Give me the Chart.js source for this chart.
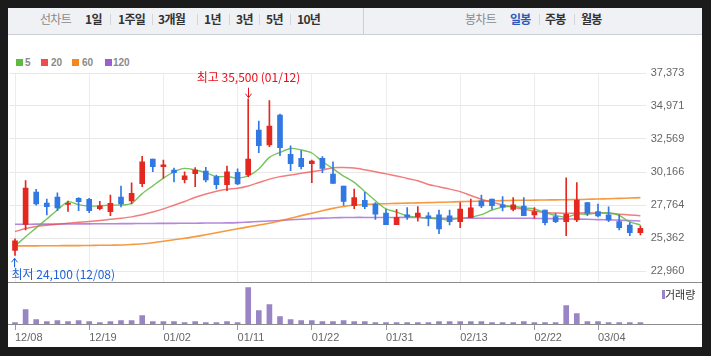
<!DOCTYPE html>
<html><head><meta charset="utf-8">
<script src="https://cdn.jsdelivr.net/npm/chart.js@4.4.0/dist/chart.umd.min.js"></script>
<style>
html,body{margin:0;padding:0;background:#1b1b1b;}
#wrap{position:relative;width:711px;height:356px;background:#1b1b1b;overflow:hidden;font-family:"Noto Sans CJK KR","Noto Sans",sans-serif;}
#panel{position:absolute;left:8px;top:8px;width:694px;height:339px;background:#fff;}
#tabs{position:absolute;left:8px;top:8px;width:694px;height:26px;background:#eff1f5;border-bottom:1px solid #cbced4;}
.t{position:absolute;top:11px;font-size:12px;line-height:16px;color:#333;font-weight:bold;letter-spacing:-0.7px;white-space:nowrap;}
.g{color:#8a8a8a;font-weight:normal;}
.b{color:#2f5bb7;}
.sep{position:absolute;top:14px;width:1px;height:11px;background:#d3d6dc;}
.lg{position:absolute;top:57px;font-size:10px;line-height:11px;font-weight:bold;color:#8a8a8a;font-family:"Liberation Sans",Arial,sans-serif;}
.sq{position:absolute;top:59px;width:7px;height:7px;}
canvas{position:absolute;left:0;top:0;}
#vlg{position:absolute;left:665px;top:288px;font-size:11px;line-height:13px;color:#333;}
#vsq{position:absolute;left:662px;top:290px;width:3px;height:9px;background:#9985c6;}
</style>
</head><body>
<div id="wrap">
  <div id="panel"></div>
  <div id="tabs"></div>
  <span class="t g" style="left:40px">선차트</span>
  <span class="t" style="left:85px">1일</span><span class="sep" style="left:110px"></span>
  <span class="t" style="left:118px">1주일</span><span class="sep" style="left:152px"></span>
  <span class="t" style="left:158px">3개월</span><span class="sep" style="left:197px"></span>
  <span class="t" style="left:204px">1년</span><span class="sep" style="left:229px"></span>
  <span class="t" style="left:236px">3년</span><span class="sep" style="left:259px"></span>
  <span class="t" style="left:266px">5년</span><span class="sep" style="left:290px"></span>
  <span class="t" style="left:297px">10년</span>
  <span class="sep" style="left:363px;top:8px;height:26px;background:#cbced4"></span>
  <span class="t g" style="left:465px">봉차트</span>
  <span class="t b" style="left:510px">일봉</span><span class="sep" style="left:539px"></span>
  <span class="t" style="left:545px">주봉</span><span class="sep" style="left:574px"></span>
  <span class="t" style="left:581px">월봉</span>

  <span class="sq" style="left:16px;background:#5dbb3f"></span><span class="lg" style="left:25px">5</span>
  <span class="sq" style="left:41px;background:#ef4b4b"></span><span class="lg" style="left:51px">20</span>
  <span class="sq" style="left:72px;background:#f5871f"></span><span class="lg" style="left:82px">60</span>
  <span class="sq" style="left:105px;background:#9d5fcf"></span><span class="lg" style="left:113px">120</span>

  <canvas id="price" width="711" height="356"></canvas>
  <canvas id="vol" width="711" height="356"></canvas>
  <span id="vsq"></span><span id="vlg">거래량</span>
</div>
<script>
const dates = ['12/08','12/11','12/12','12/13','12/14','12/15','12/18','12/19','12/20','12/21','12/22','12/26','12/27','12/28',
'01/02','01/03','01/04','01/05','01/08','01/09','01/10','01/11','01/12','01/15','01/16','01/17','01/18','01/19',
'01/22','01/23','01/24','01/25','01/26','01/29','01/30','01/31','02/01','02/02','02/05','02/06','02/07','02/08',
'02/13','02/14','02/15','02/16','02/19','02/20','02/21','02/22','02/23','02/26','02/27','02/28','02/29',
'03/04','03/05','03/06','03/07','03/08'];
const tickLabels = ['12/08','12/19','01/02','01/11','01/22','01/31','02/13','02/22','03/04'];
const priceTicks = [22960,25362,27764,30166,32569,34971,37373];

const opens  = [24450,26350,28700,27900,28350,27800,28250,28180,27500,27280,28350,28060,29320,31110,
30560,30310,29610,30050,30240,29830,29250,30140,29950,33220,32130,34310,31450,31160,
30770,31160,30020,29150,27720,28100,27840,27180,26330,27040,26920,26970,27040,26970,
26550,26840,28060,28200,27770,27450,27690,27040,27400,26920,26550,26670,27940,
27280,27040,26550,26310,25750];
const highs  = [25300,29550,28900,28200,28650,28050,28300,28250,28030,28490,29150,29370,31300,31110,
31040,30460,30170,30480,30510,29950,30600,30390,35500,33880,35360,34390,32080,31720,
31040,31280,30900,29150,28930,28690,27940,27450,27450,27570,27650,27210,27400,27400,
27940,28200,28490,28200,28370,28300,28300,27570,27400,27160,29750,29390,27940,
27840,27640,27040,26480,26240];
const lows   = [24100,25950,27750,27050,27350,27300,27350,27200,27400,26990,27620,27840,29100,30190,
29710,29440,29370,29100,29440,28930,28810,29250,29830,31570,32010,31360,30260,30390,
29390,30120,29340,27740,27500,27500,26720,26330,26330,26720,26580,26240,25680,26310,
26120,26840,27570,27470,27330,27330,26990,26800,26310,26480,25530,26550,26990,
26890,26550,25950,25530,25580];
const closes = [25150,29000,27850,27650,27550,27880,28000,27350,27700,27890,27840,28620,30900,30560,
30680,30120,29880,30310,29590,29250,30170,29300,31110,32080,33510,31940,30770,30560,
30970,30430,29340,28030,28300,27650,27090,26330,26870,26890,27180,26800,26020,26550,
27470,27550,27690,27720,27600,27770,26990,27280,26480,26550,27090,28130,27160,
26970,26670,26120,25750,26070];
const ma5   = [24780,25450,26100,26750,27400,27990,27790,27690,27700,27760,27760,27880,28590,29160,
29720,30180,30430,30310,30120,29830,29840,29720,29880,30380,31230,31590,31880,31770,
31550,30930,30410,29870,29410,28750,28080,27480,27250,26970,26870,26810,26750,26690,
26800,26880,27060,27400,27610,27670,27550,27470,27220,27010,26880,27110,27080,
27180,27200,27010,26530,26320];
const ma20  = [25830,26050,26200,26290,26370,26440,26500,26560,26640,26720,26800,26900,27050,27250,
27480,27750,28020,28330,28560,28760,28910,28980,29150,29400,29650,29830,29950,30070,
30190,30310,30480,30490,30450,30330,30190,30030,29880,29700,29530,29260,29100,28920,
28740,28460,28180,27970,27770,27600,27450,27330,27210,27180,27160,27180,27200,
27180,27160,27100,27040,26990];
const ma60  = [24780,24790,24790,24800,24800,24810,24810,24820,24830,24840,24850,24890,24940,25020,
25120,25230,25340,25460,25600,25740,25890,26030,26170,26300,26430,26620,26800,26990,
27170,27350,27520,27650,27760,27810,27840,27860,27880,27900,27920,27940,27960,27980,
28010,28030,28050,28070,28080,28100,28110,28120,28130,28140,28150,28160,28180,
28200,28220,28250,28270,28300];
const ma120 = [26360,26360,26370,26370,26380,26380,26390,26390,26400,26400,26410,26410,26420,26420,
26430,26430,26440,26440,26450,26450,26460,26480,26520,26560,26600,26640,26690,26730,
26770,26810,26840,26850,26860,26860,26860,26860,26860,26860,26850,26830,26810,26800,
26800,26800,26800,26800,26800,26800,26800,26790,26780,26760,26750,26740,26730,
26700,26680,26660,26630,26600];
const volumes = [130,1430,430,230,330,230,330,230,130,230,330,330,830,230,
230,230,130,230,130,130,230,130,3630,1330,1930,730,430,330,
330,230,230,330,230,230,130,130,130,130,130,130,230,230,
230,230,230,130,130,130,230,130,130,130,1830,1030,230,
230,130,130,130,130];

const UP = '#e3281f', DOWN = '#3178e2';
const candleColors = opens.map((o,i)=> closes[i] >= opens[i] ? UP : DOWN);
const fmt = v => v.toLocaleString('en-US');
const showTick = i => tickLabels.includes(dates[i]);

const priceDeco = {
  id:'priceDeco',
  afterDraw(chart){
    const ctx = chart.ctx, xs = chart.scales.x, ys = chart.scales.y;
    ctx.save();
    ctx.fillStyle = '#8c8c8c';
    ctx.fillRect(8, Math.round(chart.chartArea.bottom), 694, 1);
    const hi = Math.max(...highs), hiIdx = highs.indexOf(hi);
    let x = Math.round(xs.getPixelForValue(hiIdx)) + 0.5, y = ys.getPixelForValue(hi);
    ctx.strokeStyle = '#e8101c'; ctx.fillStyle = '#e8101c'; ctx.lineWidth = 1;
    ctx.beginPath(); ctx.moveTo(x, y-11); ctx.lineTo(x, y-1);
    ctx.moveTo(x-3, y-5); ctx.lineTo(x, y-1); ctx.lineTo(x+3, y-5); ctx.stroke();
    ctx.font = '12px "Noto Sans CJK KR", sans-serif';
    ctx.textAlign = 'center'; ctx.textBaseline = 'middle';
    ctx.fillText('최고 ' + fmt(hi) + ' (' + dates[hiIdx] + ')', x, y - 21);
    const lo = Math.min(...lows), loIdx = lows.indexOf(lo);
    x = Math.round(xs.getPixelForValue(loIdx)) - 0.5; y = ys.getPixelForValue(lo);
    ctx.strokeStyle = '#1f63d6'; ctx.fillStyle = '#1f63d6';
    ctx.beginPath(); ctx.moveTo(x, y+3); ctx.lineTo(x, y+12);
    ctx.moveTo(x-3, y+7); ctx.lineTo(x, y+3); ctx.lineTo(x+3, y+7); ctx.stroke();
    ctx.textAlign = 'left';
    ctx.fillText('최저 ' + fmt(lo) + ' (' + dates[loIdx] + ')', x - 3, y + 19);
    ctx.restore();
  }
};

new Chart(document.getElementById('price'), {
  type:'bar',
  data:{
    labels: dates,
    datasets:[
      {type:'line', data: ma120, borderColor:'rgba(157,95,207,0.75)', borderWidth:1.6, pointRadius:0, tension:0.3, order:5},
      {type:'line', data: ma60, borderColor:'rgba(245,135,31,0.85)', borderWidth:1.6, pointRadius:0, tension:0.3, order:4},
      {type:'line', data: ma20, borderColor:'rgba(236,70,70,0.7)', borderWidth:1.5, pointRadius:0, tension:0.3, order:3},
      {type:'line', data: ma5, borderColor:'rgba(93,187,63,0.85)', borderWidth:1.4, pointRadius:0, tension:0.3, order:2},
      {data: lows.map((l,i)=>[l, highs[i]]), backgroundColor: candleColors, barThickness:1, grouped:false, order:1},
      {data: opens.map((o,i)=>[o, closes[i]]), backgroundColor: candleColors, barThickness:5, minBarLength:1, grouped:false, order:0}
    ]
  },
  options:{
    responsive:false, animation:false, devicePixelRatio:1,
    layout:{padding:{left:9.7, top:73, bottom:74.5, right:8.3}},
    plugins:{legend:{display:false}, tooltip:{enabled:false}},
    scales:{
      x:{
        offset:true,
        grid:{offset:false, drawTicks:false, color: c => showTick(c.index) ? '#ececec' : 'rgba(0,0,0,0)'},
        border:{display:false},
        ticks:{display:false},
        afterFit: s => { s.height = 0; }
      },
      y:{
        position:'right', min:22196, max:37373,
        afterBuildTicks: s => { s.ticks = priceTicks.map(v => ({value:v})); },
        afterFit: s => { s.width = 57; },
        grid:{color:'#e8e8e8', drawTicks:false},
        border:{display:false},
        ticks:{padding:5, color:'#666', font:{size:11, family:'"Liberation Sans", Arial, sans-serif'}, callback: v => fmt(v)}
      }
    }
  },
  plugins:[priceDeco]
});

const volDeco = {
  id:'volDeco',
  afterDraw(chart){
    const ctx = chart.ctx;
    ctx.save();
    ctx.fillStyle = '#8c8c8c';
    ctx.fillRect(8, Math.round(chart.chartArea.bottom), 694, 1);
    ctx.restore();
  }
};

new Chart(document.getElementById('vol'), {
  type:'bar',
  data:{labels: dates, datasets:[{data: volumes, backgroundColor:'#9985c6', barThickness:5}]},
  options:{
    responsive:false, animation:false, devicePixelRatio:1,
    layout:{padding:{left:9.7, top:282, bottom:12, right:65.3}},
    plugins:{legend:{display:false}, tooltip:{enabled:false}},
    scales:{
      x:{
        offset:true,
        grid:{offset:false, drawOnChartArea:false, tickLength:6, tickColor: c => showTick(c.index) ? '#9a9a9a' : 'rgba(0,0,0,0)'},
        border:{display:false},
        ticks:{autoSkip:false, maxRotation:0, align:'start', padding:1, color:'#666',
          font:{size:11, family:'"Liberation Sans", Arial, sans-serif'},
          callback: (v,i) => showTick(i) ? dates[i] : ''},
        afterFit: s => { s.height = 20; }
      },
      y:{display:false, min:0, max:4200}
    }
  },
  plugins:[volDeco]
});
</script>
</body></html>
